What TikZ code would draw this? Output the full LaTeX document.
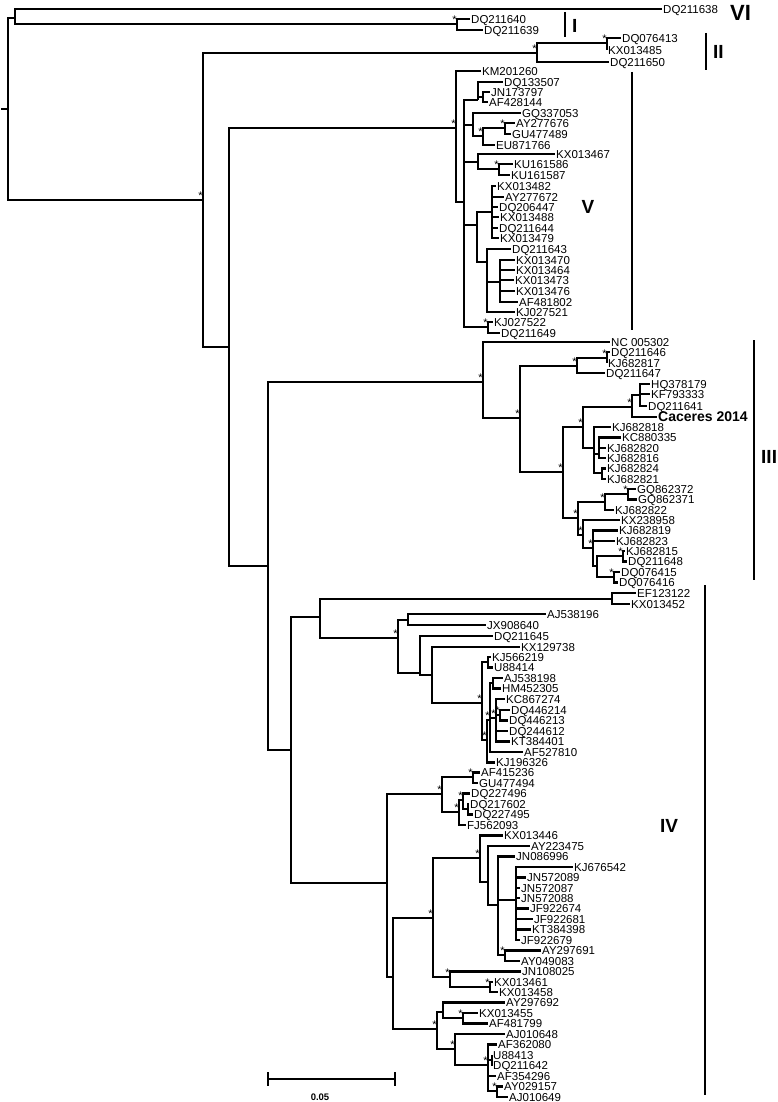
\documentclass[tikz,border=0pt]{standalone}
\usepackage{fontspec}
\setmainfont{Liberation Sans}
\tikzset{
 br/.style={line width=2.7pt, line join=miter},
 lab/.style={anchor=west, inner sep=1pt, text height=8.2pt, text depth=0pt, font=\fontsize{11.5}{11.5}\selectfont},
 st/.style={anchor=south east, inner sep=0.2pt, font=\fontsize{11}{11}\selectfont},
 clab/.style={inner sep=0pt, font=\bfseries\fontsize{19}{19}\selectfont},
 cbar/.style={line width=2.7pt},
}
\newcommand\TNode[4]{\coordinate (#1) at (#3,#4); \draw[br] (#2) |- (#1);}
\newcommand\TSNode[4]{\TNode{#1}{#2}{#3}{#4}\node[st] (#1s) at (#1) {*};}
\newcommand\TLeaf[5]{\coordinate (#1) at (#3,#4); \draw[br] (#2) |- (#1); \node[lab] (#1t) at (#1) {#5};}
\begin{document}
\begin{tikzpicture}[x=1pt,y=-1pt]
\useasboundingbox (0,0) rectangle (777,1102);
% root
\coordinate (R) at (8,109);
\coordinate (r0) at (1,109);
\draw[br] (r0) -- (R);
\TNode{A}{R}{15}{18}
\TLeaf{DQ211638}{A}{662}{9}{DQ211638}
\TSNode{NI}{A}{457}{24}
\TLeaf{DQ211640}{NI}{470}{19}{DQ211640}
\TLeaf{DQ211639}{NI}{483}{30}{DQ211639}
\TSNode{B}{R}{203}{200}
% clade II
\TSNode{NII}{B}{537}{53}
\TSNode{NIIa}{NII}{607}{43}
\TLeaf{DQ076413}{NIIa}{621}{38}{DQ076413}
\TLeaf{KX013485}{NIIa}{607}{50}{KX013485}
\TLeaf{DQ211650}{NII}{609}{62}{DQ211650}
\TNode{C}{B}{229}{347}
% clade V
\TSNode{NV}{C}{456}{128}
\TLeaf{KM201260}{NV}{481}{71}{KM201260}
\TNode{VA}{NV}{464}{202}
\TNode{Na}{VA}{478}{100}
\TLeaf{DQ133507}{Na}{503}{82}{DQ133507}
\TNode{Na1}{Na}{483}{97}
\TLeaf{JN173797}{Na1}{490}{92}{JN173797}
\TLeaf{AF428144}{Na1}{488}{102}{AF428144}
\TNode{Nb}{VA}{473}{125}
\TLeaf{GQ337053}{Nb}{521}{113}{GQ337053}
\TSNode{Nb1}{Nb}{483}{136}
\TSNode{Nb2}{Nb1}{505}{128}
\TLeaf{AY277676}{Nb2}{515}{123}{AY277676}
\TLeaf{GU477489}{Nb2}{511}{134}{GU477489}
\TLeaf{EU871766}{Nb1}{495}{145}{EU871766}
\TNode{Nc}{VA}{478}{162}
\TLeaf{KX013467}{Nc}{555}{154}{KX013467}
\TSNode{Nc1}{Nc}{499}{169}
\TLeaf{KU161586}{Nc1}{513}{164}{KU161586}
\TLeaf{KU161587}{Nc1}{510}{175}{KU161587}
\TNode{Ne}{VA}{477}{225}
\TNode{Nd}{Ne}{492}{212}
\TLeaf{KX013482}{Nd}{496}{186}{KX013482}
\TLeaf{AY277672}{Nd}{504}{197}{AY277672}
\TLeaf{DQ206447}{Nd}{498}{207}{DQ206447}
\TLeaf{KX013488}{Nd}{499}{217}{KX013488}
\TLeaf{DQ211644}{Nd}{498}{228}{DQ211644}
\TLeaf{KX013479}{Nd}{499}{238}{KX013479}
\TNode{Nf}{Ne}{487}{262}
\TLeaf{DQ211643}{Nf}{511}{249}{DQ211643}
\TNode{Ng}{Nf}{500}{282}
\TLeaf{KX013470}{Ng}{515}{260}{KX013470}
\TLeaf{KX013464}{Ng}{515}{270}{KX013464}
\TLeaf{KX013473}{Ng}{514}{280}{KX013473}
\TLeaf{KX013476}{Ng}{515}{291}{KX013476}
\TLeaf{AF481802}{Ng}{518}{302}{AF481802}
\TLeaf{KJ027521}{Nf}{515}{312}{KJ027521}
\TSNode{Nh}{VA}{488}{327}
\TLeaf{KJ027522}{Nh}{493}{322}{KJ027522}
\TLeaf{DQ211649}{Nh}{500}{333}{DQ211649}
% clade III
\TNode{D}{C}{268}{566}
\TSNode{N3}{D}{483}{382}
\TLeaf{NC005302}{N3}{610}{342}{NC 005302}
\TSNode{N3a}{N3}{520}{418}
\TSNode{N3b}{N3a}{577}{366}
\TSNode{N3b1}{N3b}{607}{358}
\TLeaf{DQ211646}{N3b1}{610}{352}{DQ211646}
\TLeaf{KJ682817}{N3b1}{607}{363}{KJ682817}
\TLeaf{DQ211647}{N3b}{605}{373}{DQ211647}
\TSNode{N3c}{N3a}{563}{472}
\TSNode{N3d}{N3c}{583}{427}
\TSNode{N3e}{N3d}{632}{407}
\TNode{N3f}{N3e}{640}{395}
\TLeaf{HQ378179}{N3f}{650}{384}{HQ378179}
\TLeaf{KF793333}{N3f}{650}{394}{KF793333}
\TLeaf{DQ211641}{N3f}{647}{406}{DQ211641}
\coordinate (Caceres) at (657,417);
\draw[br] (N3e) |- (Caceres);
\node[anchor=west, inner sep=1pt, font=\bfseries\fontsize{14}{14}\selectfont] (Cacerest) at (Caceres) {Caceres 2014};
\TNode{N3g}{N3d}{594}{448}
\TLeaf{KJ682818}{N3g}{611}{427}{KJ682818}
\TNode{N3g1}{N3g}{599}{454}
\TLeaf{KC880335}{N3g1}{621}{437.5}{KC880335}
\TLeaf{KJ682820}{N3g1}{606}{448}{KJ682820}
\TLeaf{KJ682816}{N3g1}{606}{458}{KJ682816}
\TNode{N3g2}{N3g}{602}{473}
\TLeaf{KJ682824}{N3g2}{606}{468.5}{KJ682824}
\TLeaf{KJ682821}{N3g2}{606}{479}{KJ682821}
\TSNode{N3h}{N3c}{578}{518}
\TSNode{N3i}{N3h}{605}{502}
\TSNode{N3i1}{N3i}{628}{494}
\TLeaf{GQ862372}{N3i1}{636}{489}{GQ862372}
\TLeaf{GQ862371}{N3i1}{637}{499.5}{GQ862371}
\TLeaf{KJ682822}{N3i}{614}{510}{KJ682822}
\TSNode{N3j}{N3h}{583}{535}
\TLeaf{KX238958}{N3j}{620}{520}{KX238958}
\TSNode{N3k}{N3j}{593}{548}
\TLeaf{KJ682819}{N3k}{618}{530.5}{KJ682819}
\TLeaf{KJ682823}{N3k}{615}{541}{KJ682823}
\TNode{N3l}{N3k}{597}{566}
\TSNode{N3l1}{N3l}{623}{556}
\TLeaf{KJ682815}{N3l1}{625}{551}{KJ682815}
\TLeaf{DQ211648}{N3l1}{627}{561.5}{DQ211648}
\TSNode{N3l2}{N3l}{614}{577}
\TLeaf{DQ076415}{N3l2}{620}{572}{DQ076415}
\TLeaf{DQ076416}{N3l2}{618}{582.5}{DQ076416}
% clade IV
\TNode{NIV}{D}{291}{750}
\TNode{IVa}{NIV}{320}{617}
\TNode{NEF}{IVa}{612}{599}
\TLeaf{EF123122}{NEF}{636}{593}{EF123122}
\TLeaf{KX013452}{NEF}{630}{604}{KX013452}
\TSNode{IVa2}{IVa}{398}{638}
\TNode{IVa3}{IVa2}{408}{620}
\TLeaf{AJ538196}{IVa3}{546}{614}{AJ538196}
\TLeaf{JX908640}{IVa3}{486}{625}{JX908640}
\TNode{IVa4}{IVa2}{420}{673}
\TLeaf{DQ211645}{IVa4}{493}{636}{DQ211645}
\TNode{IVa5}{IVa4}{432}{675}
\TLeaf{KX129738}{IVa5}{520}{647}{KX129738}
\TSNode{IVa6}{IVa5}{482}{703}
\TNode{IVa7}{IVa6}{488}{662}
\TLeaf{KJ566219}{IVa7}{491}{657}{KJ566219}
\TLeaf{U88414}{IVa7}{493}{667.5}{U88414}
\TSNode{IVa8}{IVa6}{487}{740}
\TSNode{IVa9}{IVa8}{490}{720}
\TNode{IVa10}{IVa9}{493}{683}
\TLeaf{AJ538198}{IVa10}{503}{678}{AJ538198}
\TLeaf{HM452305}{IVa10}{501}{688.5}{HM452305}
\TSNode{IVa11}{IVa9}{496}{718}
\TLeaf{KC867274}{IVa11}{505}{699}{KC867274}
\TSNode{IVa12}{IVa11}{500}{715}
\TLeaf{DQ446214}{IVa12}{510}{710}{DQ446214}
\TLeaf{DQ446213}{IVa12}{508}{720.5}{DQ446213}
\TLeaf{DQ244612}{IVa11}{508}{731}{DQ244612}
\TLeaf{KT384401}{IVa11}{510}{741.5}{KT384401}
\TLeaf{AF527810}{IVa9}{523}{752}{AF527810}
\TLeaf{KJ196326}{IVa8}{495}{762.5}{KJ196326}
\TNode{IVb}{NIV}{387}{883}
\TSNode{IVb1}{IVb}{442}{794}
\TSNode{IVb1a}{IVb1}{473}{777}
\TLeaf{AF415236}{IVb1a}{480}{772.5}{AF415236}
\TLeaf{GU477494}{IVb1a}{478}{783}{GU477494}
\TSNode{IVb1b}{IVb1}{459}{812}
\TSNode{IVb1c}{IVb1b}{463}{800}
\TLeaf{DQ227496}{IVb1c}{470}{793.5}{DQ227496}
\TNode{IVb1d}{IVb1c}{468}{809}
\TLeaf{DQ217602}{IVb1d}{469}{804}{DQ217602}
\TLeaf{DQ227495}{IVb1d}{473}{814.5}{DQ227495}
\TLeaf{FJ562093}{IVb1b}{466}{825}{FJ562093}
\TNode{IVb2}{IVb}{393}{977}
\TSNode{IVb3}{IVb2}{433}{918}
\TSNode{IVb5}{IVb3}{480}{858}
\TLeaf{KX013446}{IVb5}{503}{835.5}{KX013446}
\TNode{IVb7}{IVb5}{488}{882}
\TLeaf{AY223475}{IVb7}{530}{846}{AY223475}
\TNode{IVb8}{IVb7}{498}{905}
\TLeaf{JN086996}{IVb8}{515}{856.5}{JN086996}
\TNode{IVb9}{IVb8}{516}{900}
\TLeaf{KJ676542}{IVb9}{573}{867}{KJ676542}
\TLeaf{JN572089}{IVb9}{526}{877.5}{JN572089}
\TLeaf{JN572087}{IVb9}{520}{888}{JN572087}
\TLeaf{JN572088}{IVb9}{520}{898}{JN572088}
\TLeaf{JF922674}{IVb9}{529}{908.5}{JF922674}
\TLeaf{JF922681}{IVb9}{533}{919}{JF922681}
\TLeaf{KT384398}{IVb9}{531}{929.5}{KT384398}
\TLeaf{JF922679}{IVb9}{520}{940}{JF922679}
\TSNode{IVb10}{IVb8}{505}{955}
\TLeaf{AY297691}{IVb10}{541}{950.5}{AY297691}
\TLeaf{AY049083}{IVb10}{520}{961}{AY049083}
\TSNode{IVb6}{IVb3}{450}{977}
\TLeaf{JN108025}{IVb6}{521}{971.5}{JN108025}
\TSNode{IVb11}{IVb6}{490}{987}
\TLeaf{KX013461}{IVb11}{493}{982}{KX013461}
\TLeaf{KX013458}{IVb11}{498}{992}{KX013458}
\TSNode{IVb4}{IVb2}{437}{1029}
\TNode{IVb12}{IVb4}{443}{1012}
\TLeaf{AY297692}{IVb12}{505}{1002.5}{AY297692}
\TSNode{IVb12a}{IVb12}{463}{1018}
\TLeaf{KX013455}{IVb12a}{478}{1013}{KX013455}
\TLeaf{AF481799}{IVb12a}{488}{1023.5}{AF481799}
\TSNode{IVb13}{IVb4}{455}{1049}
\TLeaf{AJ010648}{IVb13}{505}{1034}{AJ010648}
\TSNode{IVb15}{IVb13}{488}{1065}
\TLeaf{AF362080}{IVb15}{497}{1044.5}{AF362080}
\TNode{IVb16}{IVb15}{492}{1060}
\TLeaf{U88413}{IVb16}{492}{1055}{U88413}
\TLeaf{DQ211642}{IVb16}{492}{1065.5}{DQ211642}
\TLeaf{AF354296}{IVb15}{496}{1076}{AF354296}
\TSNode{IVb17}{IVb15}{497}{1091}
\TLeaf{AY029157}{IVb17}{503}{1086.5}{AY029157}
\TLeaf{AJ010649}{IVb17}{508}{1097}{AJ010649}
% clade bars and labels
\node[clab, anchor=west, font=\bfseries\fontsize{22}{22}\selectfont] (lVI) at (730,13) {VI};
\coordinate (bIt) at (565,12); \coordinate (bIb) at (565,37);
\draw[cbar] (bIt) -- (bIb);
\node[clab, anchor=west] (lI) at (572,26) {I};
\coordinate (bIIt) at (706,33); \coordinate (bIIb) at (706,70);
\draw[cbar] (bIIt) -- (bIIb);
\node[clab, anchor=west] (lII) at (713,52) {II};
\coordinate (bVt) at (632,72); \coordinate (bVb) at (632,330);
\draw[cbar] (bVt) -- (bVb);
\node[clab] (lV) at (588,207) {V};
\coordinate (bIIIt) at (754,340); \coordinate (bIIIb) at (754,580);
\draw[cbar] (bIIIt) -- (bIIIb);
\node[clab, anchor=west] (lIII) at (761,457) {III};
\coordinate (bIVt) at (705,585); \coordinate (bIVb) at (705,1095);
\draw[cbar] (bIVt) -- (bIVb);
\node[clab] (lIV) at (669,826) {IV};
% scale bar
\coordinate (sbL) at (268,1079); \coordinate (sbR) at (395,1079);
\coordinate (sbLt) at (268,1072); \coordinate (sbLb) at (268,1086);
\coordinate (sbRt) at (395,1072); \coordinate (sbRb) at (395,1086);
\draw[line width=2pt] (sbL) -- (sbR);
\draw[line width=2pt] (sbLt) -- (sbLb);
\draw[line width=2pt] (sbRt) -- (sbRb);
\node[inner sep=0pt, font=\bfseries\fontsize{9.5}{9.5}\selectfont] (sbl) at (320,1097) {0.05};
\end{tikzpicture}
\end{document}
